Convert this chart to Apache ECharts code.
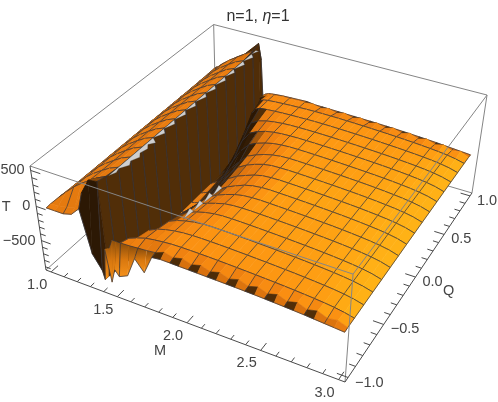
<!DOCTYPE html>
<html>
<head>
<meta charset="utf-8">
<style>
  html, body { margin: 0; padding: 0; background: #fff; }
  #chart { width: 498px; height: 402px; }
</style>
<script src="https://cdn.jsdelivr.net/npm/echarts@6/dist/echarts.min.js"></script>
</head>
<body>
<div id="chart"></div>
<script>
// values
const mColumns = [1, 1.0625, 1.125, 1.1875, 1.25, 1.3125, 1.375, 1.39, 1.41, 1.44, 1.47, 1.5, 1.5625, 1.625, 1.6875, 1.75,
  1.8125, 1.875, 1.9375, 2, 2.0625, 2.125, 2.1875, 2.25, 2.3125, 2.375, 2.4375, 2.5, 2.5625, 2.625, 2.6875, 2.75,
  2.8125, 2.875, 2.9375, 3]
const qRows = [1, 0.96, 0.875, 0.75, 0.625, 0.5, 0.375, 0.25, 0.125, 0, -0.125, -0.25, -0.375, -0.5, -0.625, -0.75, -0.875, -0.96, -1]

// T left of the wall, M = 1 .. 1.375
const stripT = [
  [-44, -44, -40, -30, -20, 100, 260],
  [-40, 0, 40, 120, 260, 420, 540],
  [-45, 70, 180, 270, 350, 425, 500],
  [-48, 70, 180, 270, 350, 420, 470],
  [-50, 68, 178, 268, 348, 420, 470],
  [-50, 68, 178, 268, 348, 420, 470],
  [-50, 70, 180, 270, 350, 420, 470],
  [-50, 70, 180, 270, 350, 420, 470],
  [-50, 72, 182, 272, 352, 422, 470],
  [-50, 72, 182, 272, 352, 422, 470],
  [-50, 72, 182, 272, 352, 422, 470],
  [-50, 70, 180, 270, 350, 420, 470],
  [-50, 70, 180, 270, 350, 420, 470],
  [-50, 68, 178, 268, 348, 420, 470],
  [-50, 68, 178, 268, 348, 420, 470],
  [-48, 70, 180, 270, 350, 420, 470],
  [-40, 75, 185, 275, 355, 430, 490],
  [-38, -20, 0, 40, 280, 500, 520],
  [-44, -44, -44, -10, 110, -500, -700]
]
// T from the foot of the wall up to the ridge, M = 1.39 .. 1.75
const rampT = [
  [-300, -265, -240, -232, -225, -215, -210, -205, -200],
  [-300, -270, -240, -215, -200, -190, -185, -180, -178],
  [-600, -400, -230, -205, -195, -185, -178, -172, -168],
  [-800, -600, -300, -225, -195, -180, -172, -166, -162],
  [-900, -750, -520, -400, -300, -230, -195, -175, -162],
  [-900, -830, -700, -580, -450, -290, -230, -190, -168],
  [-930, -880, -820, -720, -620, -430, -300, -240, -200],
  [-930, -900, -860, -790, -720, -560, -420, -300, -245],
  [-930, -910, -885, -830, -770, -600, -460, -330, -260],
  [-930, -920, -900, -850, -800, -650, -480, -360, -285],
  [-930, -920, -900, -860, -810, -670, -500, -380, -300],
  [-930, -915, -890, -830, -780, -630, -460, -340, -275],
  [-930, -905, -870, -800, -740, -580, -400, -295, -245],
  [-930, -895, -850, -760, -690, -520, -340, -265, -220],
  [-900, -860, -800, -700, -620, -440, -285, -230, -195],
  [-880, -800, -700, -600, -520, -300, -240, -205, -180],
  [-850, -700, -520, -420, -300, -250, -210, -190, -175],
  [-830, -400, -255, -255, -255, -250, -240, -230, -215],
  [-830, -360, -830, -620, -700, -640, -340, -500, -230]
]
// T on the plateau, M = 1.8125 .. 3
const plateauT = [
  [-215, -217, -220, -222, -225, -228, -230, -233, -236, -240, -244, -250, -256, -263, -270, -278, -288, -298, -308, -318],
  [-165, -197, -166, -205, -170, -212, -176, -220, -182, -228, -190, -238, -200, -250, -214, -265, -233, -285, -265, -313],
  [-164, -162, -162, -163, -165, -168, -172, -176, -181, -186, -192, -198, -205, -213, -222, -232, -244, -259, -281, -312],
  [-160, -157, -156, -157, -159, -162, -166, -170, -175, -180, -186, -192, -199, -207, -216, -226, -238, -254, -277, -311],
  [-155, -153, -152, -153, -155, -158, -162, -166, -171, -176, -182, -188, -195, -203, -212, -222, -235, -251, -275, -310],
  [-156, -151, -149, -150, -152, -155, -159, -163, -168, -173, -179, -185, -192, -200, -209, -220, -233, -249, -273, -310],
  [-170, -155, -148, -148, -150, -153, -157, -161, -166, -171, -177, -183, -190, -198, -207, -218, -231, -248, -272, -309],
  [-200, -170, -152, -146, -148, -151, -155, -159, -164, -169, -175, -181, -188, -196, -206, -217, -230, -247, -271, -309],
  [-210, -172, -152, -148, -147, -150, -154, -158, -163, -168, -174, -180, -187, -195, -205, -216, -229, -246, -270, -308],
  [-235, -190, -160, -150, -147, -150, -154, -158, -163, -168, -174, -180, -187, -195, -205, -216, -229, -246, -270, -308],
  [-245, -195, -165, -150, -147, -150, -154, -158, -163, -168, -174, -180, -187, -195, -205, -216, -229, -246, -270, -308],
  [-225, -185, -160, -150, -148, -151, -155, -159, -164, -169, -175, -181, -188, -196, -206, -217, -230, -247, -271, -309],
  [-205, -170, -155, -150, -150, -153, -157, -161, -166, -171, -177, -183, -190, -198, -207, -218, -231, -248, -272, -309],
  [-185, -162, -152, -150, -152, -155, -159, -163, -168, -173, -179, -185, -192, -200, -209, -220, -233, -249, -273, -310],
  [-170, -155, -152, -153, -155, -158, -162, -166, -171, -176, -182, -188, -195, -203, -212, -222, -235, -251, -275, -310],
  [-165, -158, -156, -157, -159, -162, -166, -170, -175, -180, -186, -192, -199, -207, -216, -226, -238, -254, -277, -311],
  [-165, -162, -162, -163, -165, -168, -172, -176, -181, -186, -192, -198, -205, -213, -222, -232, -244, -259, -281, -312],
  [-165, -197, -166, -205, -170, -212, -176, -220, -182, -228, -190, -238, -200, -250, -214, -265, -233, -285, -265, -313],
  [-215, -217, -220, -222, -225, -228, -230, -233, -236, -240, -244, -250, -256, -263, -270, -278, -288, -298, -308, -318]
]
// grey clip patches along the top of the wall and along the ridge
const clipQ = [-0.85, -0.8, -0.76, -0.7, -0.66, -0.6, -0.56, -0.5, -0.46, -0.42, -0.38, -0.3, -0.26, -0.18, -0.14, -0.05, -0.01, 0.07, 0.11, 0.2, 0.24, 0.32, 0.36, 0.45, 0.49, 0.57, 0.61, 0.7, 0.74, 0.82, 0.86, 0.92]
const clipM = [1.375, 1.395, 1.385, 1.42, 1.4, 1.425, 1.4, 1.415, 1.39, 1.42, 1.375, 1.41, 1.375, 1.405, 1.375, 1.405, 1.375, 1.405, 1.375, 1.405, 1.375, 1.405, 1.375, 1.405, 1.375, 1.405, 1.375, 1.41, 1.375, 1.41, 1.375, 1.4]
const ridgeClipQ = [-0.56, -0.5, -0.46, -0.4, -0.36, -0.3, -0.26, -0.2, -0.16]
const ridgeClipM = [1.69, 1.7, 1.7, 1.71, 1.71, 1.72, 1.72, 1.73, 1.73]
const ridgeClipT = [-290, -200, -290, -200, -290, -200, -290, -200, -290]

const mTicks = [1, 1.5, 2, 2.5, 3]
const mMinor = [1.1, 1.2, 1.3, 1.4, 1.6, 1.7, 1.8, 1.9, 2.1, 2.2, 2.3, 2.4, 2.6, 2.7, 2.8, 2.9]
const qTicks = [-1, -0.5, 0, 0.5, 1]
const qMinor = [-0.9, -0.8, -0.7, -0.6, -0.4, -0.3, -0.2, -0.1, 0.1, 0.2, 0.3, 0.4, 0.6, 0.7, 0.8, 0.9]
const tTicks = [-500, 0, 500]
const tMinor = [-900, -800, -700, -600, -400, -300, -200, -100, 100, 200, 300, 400]
const mLabels = ['1.0', '1.5', '2.0', '2.5', '3.0']
const qLabels = ['−1.0', '−0.5', '0.0', '0.5', '1.0']
const tLabels = ['−500', '0', '500']

const mRange = [0.96, 3.04]
const qRange = [-1.04, 1.04]
const tRange = [-950, 560]
// camera, fitted to the box corners
const camX = [261.8, 217.8, -18.15, 46]
const camY = [70.8, -125.9, -115.9, 270]
const camW = [-0.1079, 0.2215, -0.0717, 1]

const FONT = '"Liberation Sans", Arial, sans-serif'

function unit (m, q, t) {
  return [(m - mRange[0]) / (mRange[1] - mRange[0]), (q - qRange[0]) / (qRange[1] - qRange[0]), (t - tRange[0]) / (tRange[1] - tRange[0])]
}
function project (m, q, t) {
  const p = unit(m, q, t)
  const d = camW[0] * p[0] + camW[1] * p[1] + camW[2] * p[2] + camW[3]
  return [
    (camX[0] * p[0] + camX[1] * p[1] + camX[2] * p[2] + camX[3]) / d,
    (camY[0] * p[0] + camY[1] * p[1] + camY[2] * p[2] + camY[3]) / d
  ]
}

// colour by light, flat parts sit around 0.94
const stops = [[0, [44, 24, 4]], [0.37, [82, 46, 8]], [0.43, [215, 112, 14]], [0.7, [238, 128, 16]], [0.9, [250, 142, 18]], [0.94, [253, 152, 18]], [0.97, [255, 168, 20]], [1, [255, 178, 22]]]
function shade (l) {
  l = Math.max(0, Math.min(1, l))
  for (let i = 1; i < stops.length; i++) {
    if (l <= stops[i][0]) {
      const a = stops[i - 1]
      const b = stops[i]
      const f = (l - a[0]) / (b[0] - a[0])
      return 'rgb(' + a[1].map((c, k) => Math.round(c + (b[1][k] - c) * f)).join(',') + ')'
    }
  }
  return 'rgb(255,178,22)'
}
function normalOf (pts) {
  const p = pts.map(a => unit(a[0], a[1], a[2]))
  const a = [p[2][0] - p[0][0], p[2][1] - p[0][1], (p[2][2] - p[0][2]) * 0.5]
  const b = [p[3][0] - p[1][0], p[3][1] - p[1][1], (p[3][2] - p[1][2]) * 0.5]
  let n = [a[1] * b[2] - a[2] * b[1], a[2] * b[0] - a[0] * b[2], a[0] * b[1] - a[1] * b[0]]
  if (n[2] < 0) n = n.map(c => -c)
  const len = Math.sqrt(n[0] * n[0] + n[1] * n[1] + n[2] * n[2]) || 1
  return n.map(c => c / len)
}
function faceColor (pts, j) {
  const n = normalOf(pts)
  let l = n[0] * 0.35 + n[2] * 0.94 - Math.abs(n[1]) * 0.8
  // seen from below
  const s = pts.map(a => project(a[0], a[1], a[2]))
  let area = 0
  for (let i = 0; i < 4; i++) {
    const k = (i + 1) % 4
    area += s[i][0] * s[k][1] - s[k][0] * s[i][1]
  }
  if (area < 0) l = Math.min(l, 0.3)
  // the strip left of the wall stays orange up to its ends
  if (j < 4) l = Math.max(l, 0.6)
  return shade(l)
}

const isMeshM = m => Number.isInteger(m * 8)
const isMeshQ = q => Number.isInteger(q * 8) || Math.abs(q) === 1

// rear row first, so nearer faces paint over farther ones
const rowsT = qRows.map((q, i) => stripT[i].concat(rampT[i], plateauT[i]))
const faces = []
for (let i = 0; i < qRows.length - 1; i++) {
  for (let j = 0; j < mColumns.length - 1; j++) {
    const pts = [
      [mColumns[j], qRows[i], rowsT[i][j]],
      [mColumns[j + 1], qRows[i], rowsT[i][j + 1]],
      [mColumns[j + 1], qRows[i + 1], rowsT[i + 1][j + 1]],
      [mColumns[j], qRows[i + 1], rowsT[i + 1][j]]
    ]
    // the hanging teeth under the front arc are lit head on
    const tooth = qRows[i + 1] === -1 && j >= 7 && j < 15
    const arc = qRows[i] === -0.96 && j >= 7 && j < 15
    faces.push({
      pts: pts,
      tooth: tooth,
      color: tooth ? '#d9780f' : faceColor(pts, j),
      lines: [
        isMeshQ(qRows[i]) || arc ? [0, 1] : null,
        isMeshQ(qRows[i + 1]) ? [3, 2] : null,
        isMeshM(mColumns[j]) ? [0, 3] : null,
        j === mColumns.length - 2 ? [1, 2] : null
      ].filter(Boolean)
    })
  }
}

function renderFace (params, api) {
  const f = faces[params.dataIndex]
  const s = f.pts.map(p => api.coord(project(p[0], p[1], p[2])))
  const fill = f.tooth ? new echarts.graphic.LinearGradient(0, 0, 0, 1, [
    { offset: 0, color: '#8a4d0b' },
    { offset: 0.5, color: '#d9780f' },
    { offset: 1, color: '#f5911a' }
  ]) : f.color
  const children = [{
    type: 'polygon',
    shape: { points: s },
    style: { fill: fill, stroke: f.color, lineWidth: f.tooth ? 0.2 : 0.6 }
  }]
  f.lines.forEach(e => {
    children.push({
      type: 'line',
      shape: { x1: s[e[0]][0], y1: s[e[0]][1], x2: s[e[1]][0], y2: s[e[1]][1] },
      style: { stroke: 'rgba(50,50,58,0.8)', lineWidth: 0.9 }
    })
  })
  return { type: 'group', children: children }
}

// box
const M0 = mRange[0]; const M1 = mRange[1]; const Q0 = qRange[0]; const Q1 = qRange[1]; const T0 = tRange[0]; const T1 = tRange[1]
const GREY = '#858585'
const AXIS = '#4a4a4a'
const backEdges = [
  [[M0, Q0, T1], [M0, Q1, T1]], [[M0, Q1, T1], [M1, Q1, T1]], [[M0, Q1, T1], [M0, Q1, T0]],
  [[M0, Q0, T0], [M0, Q1, T0]], [[M0, Q1, T0], [M1, Q1, T0]]
]
const frontEdges = [
  [[M0, Q0, T1], [M1, Q0, T1], GREY], [[M1, Q0, T1], [M1, Q1, T1], GREY], [[M1, Q0, T1], [M1, Q0, T0], GREY],
  [[M1, Q1, T1], [M1, Q1, T0], GREY], [[M0, Q0, T0], [M1, Q0, T0], AXIS], [[M1, Q0, T0], [M1, Q1, T0], AXIS],
  [[M0, Q0, T1], [M0, Q0, T0], AXIS]
]
mTicks.forEach(v => frontEdges.push([[v, Q0, T0], [v, Q0 + 0.07, T0], AXIS]))
mMinor.forEach(v => frontEdges.push([[v, Q0, T0], [v, Q0 + 0.04, T0], AXIS]))
qTicks.forEach(v => frontEdges.push([[M1, v, T0], [M1 - 0.07, v, T0], AXIS]))
qMinor.forEach(v => frontEdges.push([[M1, v, T0], [M1 - 0.04, v, T0], AXIS]))
tTicks.forEach(v => frontEdges.push([[M0, Q0, v], [M0 + 0.07, Q0, v], AXIS]))
tMinor.forEach(v => frontEdges.push([[M0, Q0, v], [M0 + 0.04, Q0, v], AXIS]))

function edgeSeries (edges, z, color) {
  return {
    type: 'custom',
    coordinateSystem: 'cartesian2d',
    silent: true,
    clip: false,
    z: z,
    data: edges.map((e, i) => [i, 0]),
    renderItem: function (params, api) {
      const e = edges[params.dataIndex]
      const a = api.coord(project(e[0][0], e[0][1], e[0][2]))
      const b = api.coord(project(e[1][0], e[1][1], e[1][2]))
      return {
        type: 'line',
        shape: { x1: a[0], y1: a[1], x2: b[0], y2: b[1] },
        style: { stroke: e[2] || color, lineWidth: 1 }
      }
    }
  }
}

// clip patches as closed outlines
const clipPolys = [
  clipQ.map((q, i) => [clipM[i], q, 470]).concat([[1.375, 0.92, 470], [1.375, -0.85, 470]]),
  ridgeClipQ.map((q, i) => [ridgeClipM[i], q, ridgeClipT[i]])
]

// text: tick labels and axis names, each hung off its tick by a pixel offset
const texts = []
mTicks.forEach((v, i) => texts.push({ at: [v, Q0, T0], dx: -14, dy: 13, text: mLabels[i], align: 'center' }))
qTicks.forEach((v, i) => texts.push({ at: [M1, v, T0], dx: 7, dy: 5, text: qLabels[i], align: 'left' }))
tTicks.forEach((v, i) => texts.push({ at: [M0, Q0, v], dx: -6, dy: 0, text: tLabels[i], align: 'right' }))
texts.push({ at: [2, Q0, T0], dx: -27, dy: 28, text: 'M', align: 'center' })
texts.push({ at: [M1, 0, T0], dx: 33, dy: 14, text: 'Q', align: 'center' })
texts.push({ at: [M0, Q0, 0], dx: -30, dy: 1, text: 'T', align: 'center' })

const chart = echarts.init(document.getElementById('chart'), null, { renderer: 'canvas' })
chart.setOption({
  animation: false,
  backgroundColor: '#fff',
  title: {
    text: '{a|n=1, }{b|η}{a|=1}',
    left: 253,
    top: 4,
    textAlign: 'center',
    textStyle: {
      rich: {
        a: { fontFamily: FONT, fontSize: 16, fontWeight: 'normal', color: '#333' },
        b: { fontFamily: FONT, fontSize: 16, fontWeight: 'normal', fontStyle: 'italic', color: '#333' }
      }
    }
  },
  grid: { left: 0, right: 0, top: 0, bottom: 0 },
  xAxis: { type: 'value', min: 0, max: 498, show: false },
  yAxis: { type: 'value', min: 0, max: 402, inverse: true, show: false },
  series: [
    edgeSeries(backEdges, 1, GREY),
    {
      type: 'custom',
      coordinateSystem: 'cartesian2d',
      silent: true,
      clip: false,
      progressive: 0,
      z: 2,
      data: faces.map((f, i) => [i, 0]),
      renderItem: renderFace
    },
    {
      type: 'custom',
      coordinateSystem: 'cartesian2d',
      silent: true,
      clip: false,
      z: 3,
      data: clipPolys.map((p, i) => [i, 0]),
      renderItem: function (params, api) {
        const pts = clipPolys[params.dataIndex].map(p => api.coord(project(p[0], p[1], p[2])))
        return {
          type: 'polygon',
          shape: { points: pts },
          style: { fill: '#cfcfcf', stroke: '#3a3a3a', lineWidth: 0.3 }
        }
      }
    },
    edgeSeries(frontEdges, 4, GREY),
    {
      type: 'custom',
      coordinateSystem: 'cartesian2d',
      silent: true,
      clip: false,
      z: 5,
      data: texts.map((t, i) => [i, 0]),
      renderItem: function (params, api) {
        const t = texts[params.dataIndex]
        const c = api.coord(project(t.at[0], t.at[1], t.at[2]))
        return {
          type: 'text',
          x: c[0] + t.dx,
          y: c[1] + t.dy,
          style: { text: t.text, fill: '#444', fontFamily: FONT, fontSize: 14.5, align: t.align, verticalAlign: 'middle' }
        }
      }
    }
  ]
})
</script>
</body>
</html>
